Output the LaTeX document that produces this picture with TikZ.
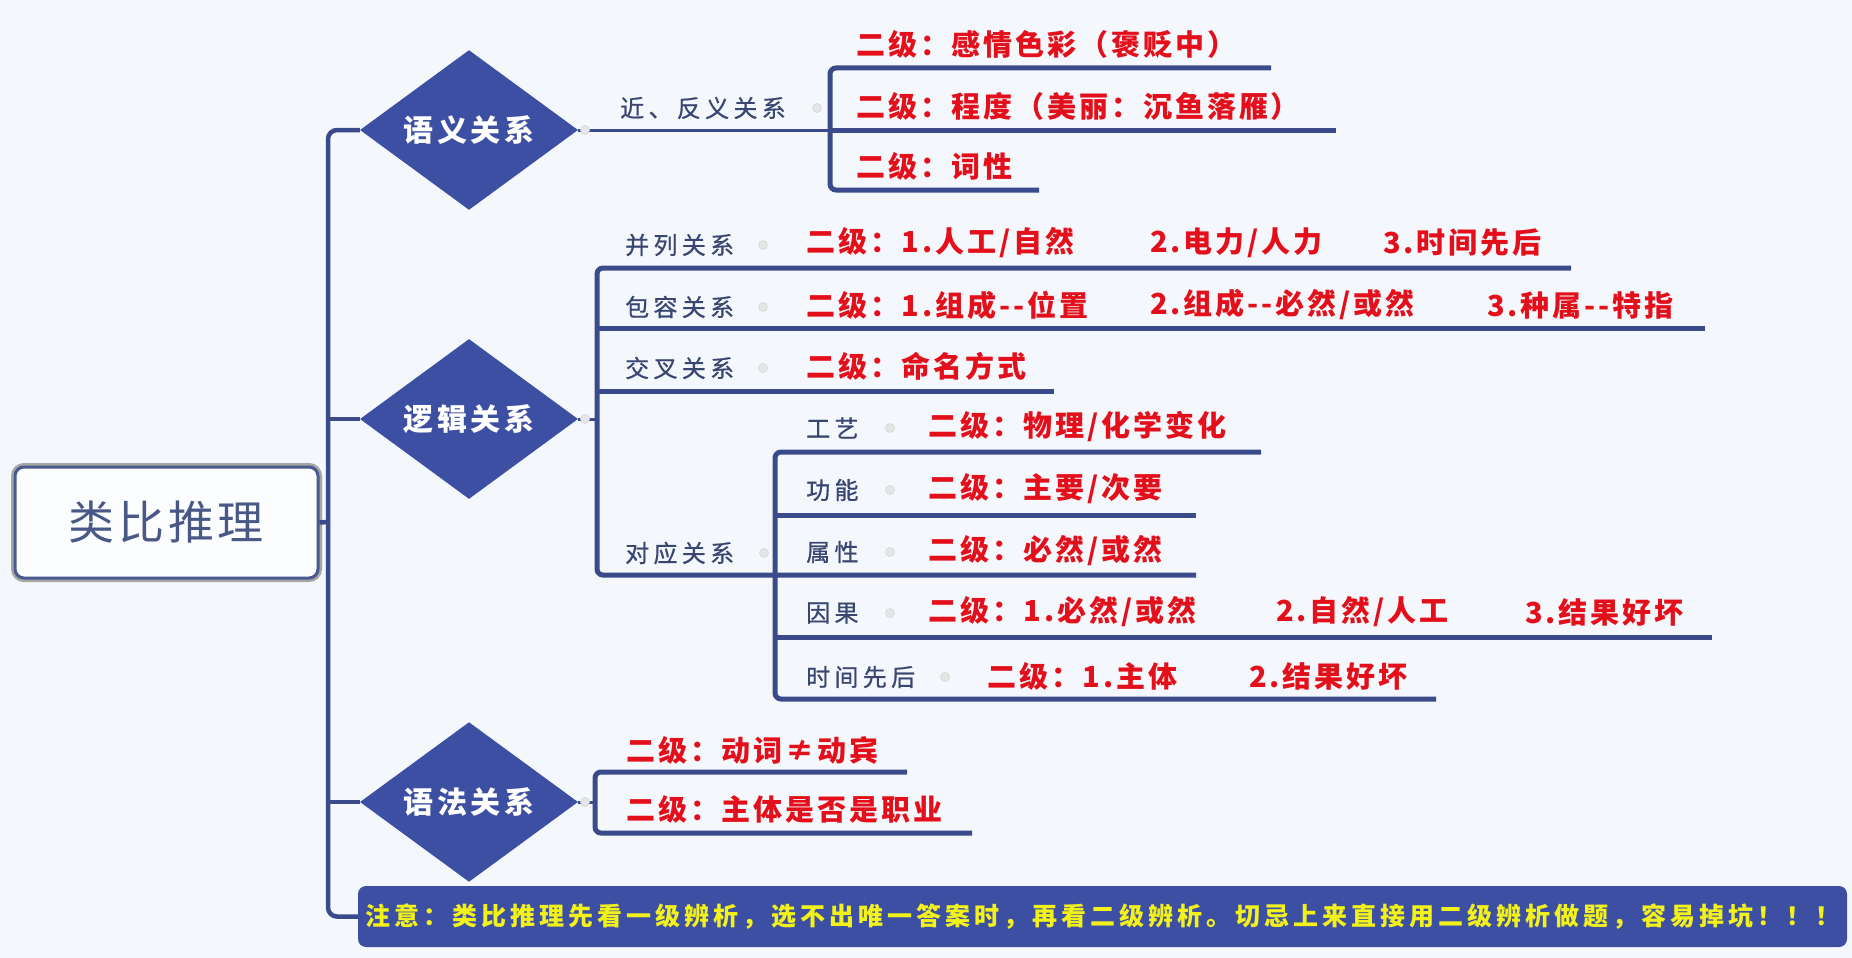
\documentclass[tikz,border=0pt]{standalone}
\usepackage{fontspec}
\usetikzlibrary{shapes.geometric}
\newfontfamily\cjk{Noto Sans CJK SC}
\newfontfamily\cjkm{Noto Sans CJK SC}[FakeBold=0.7]
\definecolor{lineblue}{HTML}{3B4A8A}
\definecolor{dfill}{HTML}{3C4FA3}
\definecolor{redt}{HTML}{E3101C}
\definecolor{labt}{HTML}{3A4672}
\definecolor{bgc}{HTML}{F4F7FB}
\definecolor{yel}{HTML}{F2F21A}
\definecolor{rootb}{HTML}{4B5A8E}
\definecolor{roott}{HTML}{4A5888}
\newcommand\fRed{\cjk\bfseries\fontsize{29}{32}\selectfont\addfontfeature{LetterSpace=10}}
\newcommand\fLab{\cjkm\fontsize{24}{26}\selectfont\addfontfeature{LetterSpace=18}}
\newcommand\fDia{\cjk\bfseries\fontsize{30}{32}\selectfont\addfontfeature{LetterSpace=12}}
\newcommand\fRoot{\cjk\fontsize{46}{48}\selectfont\addfontfeature{LetterSpace=8}}
\newcommand\fNote{\cjk\bfseries\fontsize{25}{27}\selectfont\addfontfeature{LetterSpace=16}}
\tikzset{
  redtxt/.style={anchor=west, inner sep=0pt, text=redt, font=\fRed},
  labtxt/.style={anchor=west, inner sep=0pt, text=labt, font=\fLab},
  dia/.style={diamond, fill=dfill, minimum width=218pt, minimum height=132pt, inner sep=0pt, text=white, font=\fDia},
  cl/.style={draw=lineblue, line width=5pt, rounded corners=6pt},
  tl/.style={draw=lineblue, line width=4.5pt, rounded corners=9pt},
  pl/.style={draw=lineblue, line width=3pt},
  icon/.style={circle, minimum size=9pt, inner sep=0pt, fill=black!10, draw=black!16, line width=0.6pt},
  rootbox/.style={rectangle, rounded corners=9pt, minimum width=303pt, minimum height=111pt, fill=white!70!bgc, draw=rootb, line width=3pt, preaction={draw=black!35, line width=8pt}, text=roott, font=\fRoot},
  notebox/.style={rectangle, rounded corners=8pt, minimum width=1489pt, minimum height=61pt, fill=dfill, text=yel, font=\fNote, inner sep=0pt}
}
\begin{document}
\begin{tikzpicture}[x=1pt,y=-1pt]
\useasboundingbox (0,0) rectangle (1852,958);
\fill[bgc] (0,0) rectangle (1852,958);

% root and main nodes
\node[rootbox] (root) at (166.5,522.5) {类比推理};
\node[dia] (d1) at (469,130) {语义关系};
\node[dia] (d2) at (469,419) {逻辑关系};
\node[dia] (d3) at (469,802) {语法关系};
\node[notebox] (note) at (1102.5,916.5) {注意：类比推理先看一级辨析，选不出唯一答案时，再看二级辨析。切忌上来直接用二级辨析做题，容易掉坑！！！};

% trunk
\coordinate (tr1) at (328,130);
\coordinate (tr2) at (328,419);
\coordinate (trR) at (328,522);
\coordinate (tr3) at (328,802);
\coordinate (tr5) at (328,916.5);
\draw[tl] (d1.west) -- (tr1) -- (tr5) -- (note.west);
\draw[tl] (tr2) -- (d2.west);
\draw[tl] (tr3) -- (d3.west);
\draw[tl] (root.east) -- (trR);

% ---------- branch 1: 语义关系
\coordinate (b1t) at (830,68);
\coordinate (b1m) at (830,130);
\coordinate (b1b) at (830,190);
\coordinate (e11) at (1271,68);
\coordinate (e12) at (1336,130);
\coordinate (e13) at (1039,190);
\draw[pl] (d1.east) -- (b1m);
\draw[cl] (e11) -- (b1t) -- (b1b) -- (e13);
\draw[cl] (b1m) -- (e12);
\node[icon] (i1) at (585,130) {};
\node[labtxt] (l1) at (620,108) {近、反义关系};
\node[icon] (i11) at (817,108) {};
\node[redtxt] (t11) at (856,44) {二级：感情色彩（褒贬中）};
\node[redtxt] (t12) at (856,106) {二级：程度（美丽：沉鱼落雁）};
\node[redtxt] (t13) at (856,166) {二级：词性};

% ---------- branch 2: 逻辑关系
\coordinate (b2a) at (597,268);
\coordinate (b2m) at (597,419);
\coordinate (b2b) at (597,328);
\coordinate (b2c) at (597,391);
\coordinate (b2d) at (597,575);
\coordinate (e21) at (1571,268);
\coordinate (e22) at (1705,328);
\coordinate (e23) at (1054,391);
\coordinate (e24) at (1196,575);
\draw[pl] (d2.east) -- (b2m);
\draw[cl] (e21) -- (b2a) -- (b2d) -- (e24);
\draw[cl] (b2b) -- (e22);
\draw[cl] (b2c) -- (e23);
\node[icon] (i2) at (585,419) {};

\node[labtxt] (l21) at (625,245) {并列关系};
\node[icon] (i21) at (763,245) {};
\node[redtxt] (t21a) at (806,243) {二级：1.人工/自然};
\node[redtxt] (t21b) at (1150,243) {2.电力/人力};
\node[redtxt] (t21c) at (1383,243) {3.时间先后};

\node[labtxt] (l22) at (625,307) {包容关系};
\node[icon] (i22) at (763,307) {};
\node[redtxt] (t22a) at (806,305) {二级：1.组成--位置};
\node[redtxt] (t22b) at (1150,305) {2.组成--必然/或然};
\node[redtxt] (t22c) at (1487,305) {3.种属--特指};

\node[labtxt] (l23) at (625,368) {交叉关系};
\node[icon] (i23) at (763,368) {};
\node[redtxt] (t23) at (806,366) {二级：命名方式};

\node[labtxt] (l24) at (625,553) {对应关系};
\node[icon] (i24) at (764,553) {};

% sub-branch 对应关系
\coordinate (s1) at (775,452);
\coordinate (s2) at (775,515);
\coordinate (s3) at (775,575);
\coordinate (s4) at (775,637);
\coordinate (s5) at (775,699);
\coordinate (f1) at (1261,452);
\coordinate (f2) at (1196,515);
\coordinate (f4) at (1712,637);
\coordinate (f5) at (1436,699);
\draw[cl] (f1) -- (s1) -- (s5) -- (f5);
\draw[cl] (s2) -- (f2);
\draw[cl] (s4) -- (f4);

\node[labtxt] (l31) at (806,428) {工艺};
\node[icon] (i31) at (890,428) {};
\node[redtxt] (t31) at (928,427) {二级：物理/化学变化};

\node[labtxt] (l32) at (806,490) {功能};
\node[icon] (i32) at (890,490) {};
\node[redtxt] (t32) at (928,489) {二级：主要/次要};

\node[labtxt] (l33) at (806,552) {属性};
\node[icon] (i33) at (890,552) {};
\node[redtxt] (t33) at (928,551) {二级：必然/或然};

\node[labtxt] (l34) at (806,613) {因果};
\node[icon] (i34) at (890,613) {};
\node[redtxt] (t34a) at (928,612) {二级：1.必然/或然};
\node[redtxt] (t34b) at (1276,612) {2.自然/人工};
\node[redtxt] (t34c) at (1525,612) {3.结果好坏};

\node[labtxt] (l35) at (806,677) {时间先后};
\node[icon] (i35) at (945,677) {};
\node[redtxt] (t35a) at (987,676) {二级：1.主体};
\node[redtxt] (t35b) at (1249,676) {2.结果好坏};

% ---------- branch 3: 语法关系
\coordinate (b3t) at (595,772);
\coordinate (b3m) at (595,802);
\coordinate (b3b) at (595,833);
\coordinate (e31) at (907,772);
\coordinate (e32) at (972,833);
\draw[pl] (d3.east) -- (b3m);
\draw[cl] (e31) -- (b3t) -- (b3b) -- (e32);
\node[icon] (i3) at (585,802) {};
\node[redtxt] (t41) at (626,750) {二级：动词≠动宾};
\node[redtxt] (t42) at (626,809) {二级：主体是否是职业};
\end{tikzpicture}
\end{document}
